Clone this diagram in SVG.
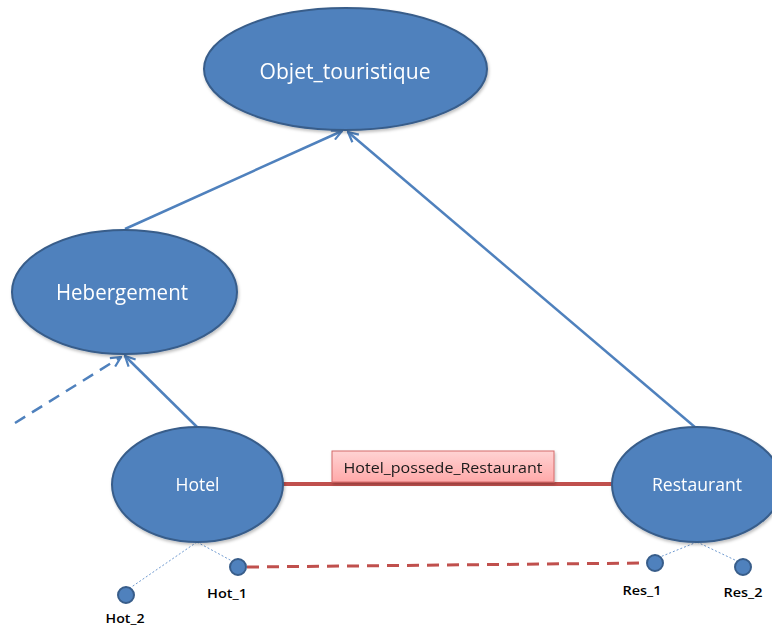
<svg xmlns="http://www.w3.org/2000/svg" width="772" height="628" viewBox="0 0 772 628">
<defs>
<style>
.node{fill:#4F81BD;stroke:#385D8A;stroke-width:2}
.lbl{fill:#FFFFFF;font-family:"Open Sans","Liberation Sans",sans-serif;text-anchor:middle;dominant-baseline:central}
.inst{fill:#4F81BD;stroke:#385D8A;stroke-width:2}
.ilbl{fill:#000000;font-family:"Open Sans","Liberation Sans",sans-serif;font-size:13px;font-weight:600;text-anchor:middle}
.isa{stroke:#4F81BD;stroke-width:2.5;fill:none}
.dot{stroke:#6F9AD0;stroke-width:1;stroke-dasharray:2 2;fill:none}
</style>
<marker id="arr" viewBox="0 0 12 12" refX="11" refY="6" markerWidth="12" markerHeight="12" markerUnits="userSpaceOnUse" orient="auto">
<path d="M1,1 L11,6 L1,11" fill="none" stroke="#4F81BD" stroke-width="2.2"/>
</marker>
<linearGradient id="pink" x1="0" y1="0" x2="0" y2="1">
<stop offset="0" stop-color="#FFD3D3"/>
<stop offset="1" stop-color="#FFA9A9"/>
</linearGradient>
<filter id="sh" x="-20%" y="-20%" width="140%" height="140%">
<feDropShadow dx="1" dy="2" stdDeviation="1.5" flood-color="#000" flood-opacity="0.25"/>
</filter>
</defs>
<rect width="772" height="628" fill="#FFFFFF"/>
<g id="connectors">
<line class="isa" x1="125" y1="229" x2="342" y2="131" marker-end="url(#arr)"/>
<line class="isa" x1="696" y1="428" x2="348" y2="132" marker-end="url(#arr)"/>
<line class="isa" x1="197" y1="427" x2="125" y2="356" marker-end="url(#arr)"/>
<line class="isa" x1="15" y1="423" x2="121" y2="357" stroke-dasharray="12 8" stroke-width="3" marker-end="url(#arr)"/>
<line x1="283" y1="484" x2="612" y2="484" stroke="#C0504D" stroke-width="4"/>
<line x1="247" y1="567" x2="646" y2="563" stroke="#C0504D" stroke-width="3" stroke-dasharray="12 8"/>
<line class="dot" x1="197" y1="542" x2="130" y2="588"/>
<line class="dot" x1="197" y1="542" x2="232" y2="561"/>
<line class="dot" x1="697" y1="542" x2="660" y2="557"/>
<line class="dot" x1="697" y1="542" x2="737" y2="561"/>
</g>
<g id="label-possede" filter="url(#sh)">
<rect x="332" y="451" width="222" height="31" fill="url(#pink)" stroke="#D46A6A" stroke-width="1"/>
<text x="443" y="467" font-family="&quot;Open Sans&quot;,&quot;Liberation Sans&quot;,sans-serif" font-size="15" fill="#1A1A1A" text-anchor="middle" dominant-baseline="central" textLength="199" lengthAdjust="spacingAndGlyphs">Hotel_possede_Restaurant</text>
</g>
<g id="objet_touristique" filter="url(#sh)">
<ellipse class="node" cx="345.5" cy="69" rx="141.5" ry="61"/>
<text class="lbl" x="345" y="71" font-size="21" textLength="171" lengthAdjust="spacingAndGlyphs">Objet_touristique</text>
</g>
<g id="hebergement" filter="url(#sh)">
<ellipse class="node" cx="124.5" cy="292" rx="112.5" ry="62"/>
<text class="lbl" x="122" y="292" font-size="21" textLength="132" lengthAdjust="spacingAndGlyphs">Hebergement</text>
</g>
<g id="hotel" filter="url(#sh)">
<ellipse class="node" cx="197.5" cy="484.5" rx="85.5" ry="57.5"/>
<text class="lbl" x="197.5" y="484" font-size="18" textLength="44" lengthAdjust="spacingAndGlyphs">Hotel</text>
</g>
<g id="restaurant" filter="url(#sh)">
<ellipse class="node" cx="697" cy="484.5" rx="85" ry="57.5"/>
<text class="lbl" x="697" y="484" font-size="18" textLength="90" lengthAdjust="spacingAndGlyphs">Restaurant</text>
</g>
<g id="hot_1">
<circle class="inst" cx="238" cy="567" r="8"/>
<text class="ilbl" x="227" y="598" textLength="40" lengthAdjust="spacingAndGlyphs">Hot_1</text>
</g>
<g id="hot_2">
<circle class="inst" cx="126" cy="595" r="8"/>
<text class="ilbl" x="125" y="623" textLength="39" lengthAdjust="spacingAndGlyphs">Hot_2</text>
</g>
<g id="res_1">
<circle class="inst" cx="655" cy="563" r="8"/>
<text class="ilbl" x="642" y="595" textLength="39" lengthAdjust="spacingAndGlyphs">Res_1</text>
</g>
<g id="res_2">
<circle class="inst" cx="743" cy="567" r="8"/>
<text class="ilbl" x="743" y="597" textLength="39" lengthAdjust="spacingAndGlyphs">Res_2</text>
</g>
</svg>
